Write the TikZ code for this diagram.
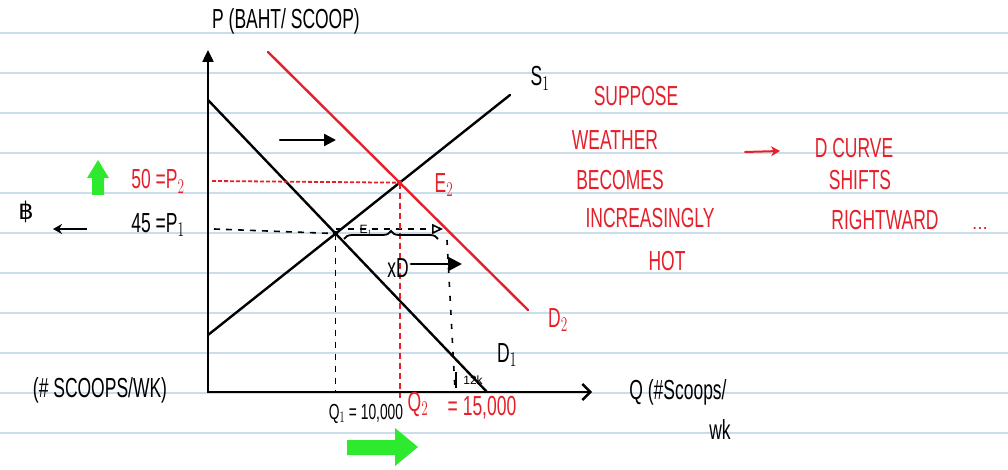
\documentclass[tikz,border=0pt]{standalone}
\usepackage{fontspec}
\setmainfont{Liberation Sans}
\newfontfamily\dvfont{DejaVu Sans}
\usetikzlibrary{arrows.meta,decorations.pathreplacing,intersections}
\definecolor{inkred}{HTML}{E5202A}
\definecolor{inkgreen}{HTML}{2EEA2E}
\definecolor{ruled}{HTML}{C9DDEA}
\newcommand{\hw}[1]{\scalebox{0.92}[1.45]{#1}}
\tikzset{
  ink/.style={line width=2.4pt, black, line cap=round},
  redink/.style={line width=2.4pt, inkred, line cap=round},
  txt/.style={font=\fontsize{19}{21}\selectfont, inner sep=0pt},
  smalltxt/.style={font=\fontsize{15}{17}\selectfont, inner sep=0pt},
  tinytxt/.style={font=\fontsize{12}{13}\selectfont, inner sep=0pt},
  redtxt/.style={txt, text=inkred},
  dash1/.style={line width=1.6pt, dash pattern=on 6pt off 6pt},
  greenfill/.style={fill=inkgreen, draw=none},
}
\begin{document}
\begin{tikzpicture}[x=1pt,y=-1pt]
\fill[white] (0,0) rectangle (1008,470);
\useasboundingbox (0,0) rectangle (1008,470);
% ruled notebook lines
\foreach \yy in {33,73,...,433} \draw[ruled, line width=1.2pt] (0,\yy) -- (1008,\yy);

% axes
\coordinate (O) at (208,392);
\coordinate (Ytop) at (208,50);
\coordinate (Xend) at (592,392);
\draw[ink, -{Triangle[length=12pt,width=11pt]}] (O) -- (Ytop);
\draw[ink, -{Straight Barb[length=8pt,width=16pt,line width=2.4pt]}] (O) -- (Xend);

% curves
\coordinate (S1a) at (208,335); \coordinate (S1b) at (510,95);
\coordinate (D1a) at (208,100); \coordinate (D1b) at (487,392);
\coordinate (D2a) at (268,52);  \coordinate (D2b) at (528,310);
\draw[ink, name path=S1] (S1a) -- (S1b);
\draw[ink, name path=D1] (D1a) -- (D1b);
\draw[redink, name path=D2] (D2a) -- (D2b);
\path[name intersections={of=S1 and D1, by=E1}];
\path[name intersections={of=S1 and D2, by=E2}];
\fill (E1) circle (2.5pt);
\fill[inkred] (E2) circle (2.5pt);

% dashed guides
\coordinate (P1s) at (214,229);
\coordinate (P1e) at (443,229);
\draw[dash1] (P1s) -- (E1);
\draw[line width=1.6pt, dash pattern=on 6pt off 6pt, -{Triangle[open,length=11pt,width=10pt]}] (E1 |- P1e) -- (P1e);
\draw[dash1] (E1) -- (E1 |- O);
\coordinate (V2a) at (447,240); \coordinate (V2b) at (455,390);
\draw[line width=1.6pt, dash pattern=on 5pt off 9pt] (V2a) -- (V2b);
\coordinate (P2s) at (212,181);
\draw[inkred, line width=1.8pt, dash pattern=on 4pt off 2pt] (P2s) -- (E2);
\coordinate (Q2b) at (E2 |- O);
\draw[inkred, line width=1.8pt, dash pattern=on 6pt off 4pt] (E2) -- ([yshift=-6pt]Q2b);

% shift arrows
\coordinate (A1s) at (280,140); \coordinate (A1e) at (336,140);
\draw[ink, -{Triangle[length=12pt,width=12pt]}] (A1s) -- (A1e);
\coordinate (BrA) at (344,239); \coordinate (BrB) at (438,239);
\draw[line width=1.8pt, decorate, decoration={brace, amplitude=8pt, mirror}] (BrB) -- (BrA);
\node[txt] (xD) at (398,268) {\hw{xD}};
\coordinate (A2e) at (462,272);
\draw[ink, -{Triangle[length=14pt,width=14pt]}] (xD.east) ++(2pt,4pt) coordinate (A2s) -- (A2e |- A2s);

% curve and point labels
\node[txt] (S1l) at (540,78) {\hw{S$_1$}};
\node[txt] (D1l) at (507,355) {\hw{D$_1$}};
\node[redtxt] (D2l) at (558,320) {\hw{D$_2$}};
\node[redtxt] (E2l) at (444,185) {\hw{E$_2$}};
\node[tinytxt] (E1l) at (366,230) {E$_1$};
\node[tinytxt] (tk) at (473,380) {12k};
\draw[line width=1.3pt] (456,372) -- (456,388);

% axis labels
\node[txt] (Plab) at (286,21) {\hw{P (BAHT/ SCOOP)}};
\node[txt] (Qlab) at (678,392) {\hw{Q (\#Scoops/}};
\node[txt] (Qwk) at (720,430) {\hw{wk}};
\node[txt] (Xunit) at (100,390) {\hw{(\# SCOOPS/WK)}};

% price labels
\node[redtxt] (P2l) at (158,181) {\hw{50 =P$_2$}};
\node[txt] (P1l) at (158,225) {\hw{45 =P$_1$}};
\node[txt, font=\dvfont\fontsize{24}{26}\selectfont] (baht) at (26,212) {฿};
\coordinate (Ba) at (87,229); \coordinate (Bb) at (53,229);
\draw[line width=2pt, -{Stealth[length=9pt,width=10pt]}] (Ba) -- (Bb);
% green up arrow
\fill[greenfill] (92,195) -- (92,178) -- (87,178) -- (98,160) -- (109,178) -- (104,178) -- (104,195) -- cycle;

% quantity labels
\node[smalltxt] (Q1l) at (366,414) {\hw{Q$_1$ = 10,000}};
\node[redtxt] (Q2l) at (418,404) {\hw{Q$_2$}};
\node[redtxt] (Q2v) at (482,408) {\hw{= 15,000}};
% green right arrow
\fill[greenfill] (347,440) -- (395,440) -- (395,428) -- (418,447) -- (395,466) -- (395,455) -- (347,455) -- cycle;

% red explanation text
\node[redtxt] (t1) at (636,96) {\hw{SUPPOSE}};
\node[redtxt] (t2) at (615,140) {\hw{WEATHER}};
\node[redtxt] (t3) at (620,180) {\hw{BECOMES}};
\node[redtxt] (t4) at (650,218) {\hw{INCREASINGLY}};
\node[redtxt] (t5) at (667,261) {\hw{HOT}};
\node[redtxt] (t6) at (854,148) {\hw{D CURVE}};
\node[redtxt] (t7) at (860,180) {\hw{SHIFTS}};
\node[redtxt] (t8) at (885,220) {\hw{RIGHTWARD}};
\node[redtxt] (t9) at (980,228) {...};
\coordinate (Ra) at (745,152); \coordinate (Rb) at (780,151);
\draw[redink, line width=2pt, -{Stealth[length=9pt,width=10pt]}] (Ra) -- (Rb);
\end{tikzpicture}
\end{document}
